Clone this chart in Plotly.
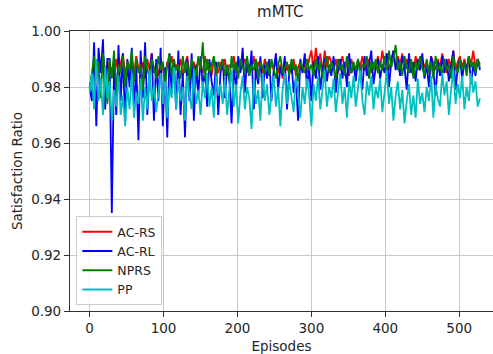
import plotly.graph_objects as go

# Values in thousandths (e.g. 985 -> 0.985), one sample every 3 episodes
episode_step = 3
ac_rs = [980, 984, 988, 983, 990, 986, 991, 984, 989, 985,
         987, 983, 990, 985, 988, 992, 984, 989, 986, 990,
         984, 991, 987, 985, 989, 983, 990, 986, 992, 985,
         988, 984, 990, 986, 983, 989, 987, 991, 985, 988,
         986, 990, 984, 988, 991, 985, 987, 989, 983, 990,
         987, 985, 991, 986, 988, 984, 990, 987, 985, 989,
         986, 990, 984, 988, 987, 991, 985, 989, 986, 988,
         990, 985, 988, 986, 991, 984, 989, 987, 985, 990,
         987, 984, 989, 986, 990, 985, 988, 983, 989, 986,
         988, 985, 990, 984, 987, 989, 986, 988, 985, 990,
         993, 986, 994, 988, 992, 985, 993, 987, 991, 989,
         986, 990, 985, 988, 991, 986, 989, 984, 990, 987,
         985, 989, 987, 991, 986, 988, 990, 985, 989, 986,
         991, 987, 993, 988, 992, 986, 990, 993, 987, 991,
         988, 992, 986, 990, 987, 989, 985, 991, 988, 986,
         990, 987, 989, 985, 991, 988, 986, 990, 987, 992,
         988, 985, 990, 987, 993, 986, 989, 991, 987, 990,
         986, 991, 988, 993, 987, 990, 988]
ac_rl = [980, 975, 996, 966, 994, 985, 997, 972, 990, 990,
         935, 988, 970, 995, 975, 992, 967, 990, 980, 994,
         972, 988, 961, 993, 976, 996, 970, 985, 992, 968,
         990, 975, 994, 966, 987, 962, 992, 978, 990, 972,
         993, 970, 985, 962, 990, 975, 992, 968, 988, 977,
         991, 980, 986, 973, 990, 982, 977, 989, 970, 985,
         990, 976, 987, 983, 967, 988, 979, 991, 985, 994,
         978, 990, 984, 993, 972, 987, 981, 991, 976, 988,
         983, 990, 975, 986, 992, 979, 987, 984, 991, 972,
         985, 989, 978, 983, 968, 990, 985, 992, 980, 987,
         975, 989, 983, 991, 979, 986, 990, 982, 988, 984,
         991, 978, 987, 990, 983, 989, 980, 992, 985, 988,
         982, 990, 986, 979, 991, 984, 988, 993, 981, 987,
         990, 983, 988, 985, 992, 980, 989, 993, 986, 990,
         984, 991, 987, 979, 992, 985, 989, 982, 990, 986,
         992, 983, 988, 980, 991, 986, 977, 989, 984, 991,
         985, 990, 982, 988, 993, 979, 987, 990, 983, 989,
         986, 991, 981, 988, 984, 990, 986]
nprs = [979, 986, 991, 983, 989, 976, 992, 985, 974, 990,
        983, 993, 978, 988, 985, 991, 980, 989, 986, 993,
        982, 990, 985, 988, 979, 991, 986, 984, 990, 987,
        983, 991, 986, 989, 980, 988, 992, 984, 990, 986,
        988, 983, 991, 985, 989, 982, 990, 987, 984, 991,
        986, 996, 983, 990, 985, 988, 991, 984, 989, 986,
        990, 984, 988, 982, 991, 986, 989, 983, 990, 987,
        985, 991, 984, 988, 986, 990, 983, 989, 987, 985,
        989, 984, 990, 986, 983, 988, 991, 985, 987, 989,
        984, 990, 986, 988, 982, 989, 987, 985, 990, 986,
        988, 984, 990, 986, 989, 983, 988, 991, 985, 989,
        987, 983, 990, 986, 988, 984, 991, 987, 985, 989,
        986, 990, 984, 988, 987, 991, 983, 989, 986, 990,
        985, 989, 986, 991, 984, 993, 987, 990, 995, 986,
        989, 984, 991, 987, 985, 990, 983, 989, 986, 991,
        987, 984, 990, 985, 989, 983, 991, 986, 988, 984,
        990, 986, 988, 983, 991, 987, 985, 990, 986, 989,
        984, 991, 987, 989, 985, 990, 987]
pp = [978, 985, 972, 990, 975, 983, 970, 987, 976, 982,
      968, 979, 973, 984, 970, 977, 966, 980, 972, 985,
      969, 978, 974, 983, 968, 980, 972, 986, 975, 981,
      971, 979, 985, 974, 982, 969, 980, 976, 987, 972,
      983, 975, 980, 968, 984, 977, 972, 986, 974, 979,
      970, 982, 976, 985, 973, 980, 969, 984, 977, 981,
      974, 983, 970, 979, 986, 973, 981, 967, 978, 984,
      972, 980, 976, 965, 983, 974, 979, 968, 985, 975,
      981, 970, 978, 984, 973, 980, 966, 979, 985, 974,
      982, 976, 971, 984, 978, 969, 980, 974, 983, 977,
      966, 981, 975, 984, 972, 979, 986, 973, 980, 976,
      983, 971, 978, 985, 974, 980, 969, 982, 976, 984,
      973, 979, 986, 975, 970, 982, 977, 984, 972, 980,
      976, 983, 971, 978, 986, 974, 980, 968, 977, 982,
      972, 979, 967, 975, 981, 970, 977, 969, 983, 974,
      978, 971, 980, 975, 984, 969, 981, 976, 973, 985,
      977, 982, 970, 979, 986, 974, 981, 976, 984, 972,
      980, 975, 985, 978, 982, 973, 976]

series_names = ["AC-RS", "AC-RL", "NPRS", "PP"]
series_values = [ac_rs, ac_rl, nprs, pp]
series_colors = ["#ff0000", "#0000ff", "#008000", "#00bfbf"]
x_ticks = [0, 100, 200, 300, 400, 500]
y_ticks = [0.90, 0.92, 0.94, 0.96, 0.98, 1.00]

fig = go.Figure()
for name, vals, col in zip(series_names, series_values, series_colors):
    xs = [i * episode_step for i in range(len(vals))]
    ys = [v / 1000 for v in vals]
    fig.add_trace(go.Scatter(x=xs, y=ys, mode="lines", name=name,
                             line=dict(color=col, width=1.8)))

font = dict(family="DejaVu Sans", size=13.5, color="#262626")
fig.update_layout(
    width=493, height=354,
    margin=dict(l=69.5, r=0, t=31, b=43),
    paper_bgcolor="white", plot_bgcolor="white",
    font=font,
    title=dict(text="mMTC", x=(69.5 + 493) / 2 / 493 - 0.002, xanchor="center",
               y=1 - 12 / 354, yanchor="middle", font=dict(size=15, color="#262626")),
    showlegend=True,
    legend=dict(x=0.015, y=0.021, xanchor="left", yanchor="bottom",
                bgcolor="rgba(255,255,255,0.8)", bordercolor="#cccccc", borderwidth=1,
                font=dict(size=12.5), itemwidth=30, tracegroupgap=0),
)
fig.update_xaxes(range=[-26.6, 545.7], tickvals=x_ticks, ticks="outside", ticklen=5,
                 tickcolor="#333", showline=True, linecolor="#333", linewidth=1.2,
                 mirror=True, showgrid=True, gridcolor="#c8c8c8", gridwidth=1,
                 zeroline=False,
                 title=dict(text="Episodes", standoff=6, font=dict(size=13.5)),
                 tickfont=dict(size=13.5))
fig.update_yaxes(range=[0.90, 1.00], tickvals=y_ticks, tickformat=".2f", ticks="outside",
                 ticklen=5, tickcolor="#333", showline=True, linecolor="#333", linewidth=1.2,
                 showgrid=True, gridcolor="#c8c8c8", gridwidth=1, zeroline=False,
                 title=dict(text="Satisfaction Ratio", standoff=5, font=dict(size=13.5)),
                 tickfont=dict(size=13.5))

fig.write_html("out.html")
